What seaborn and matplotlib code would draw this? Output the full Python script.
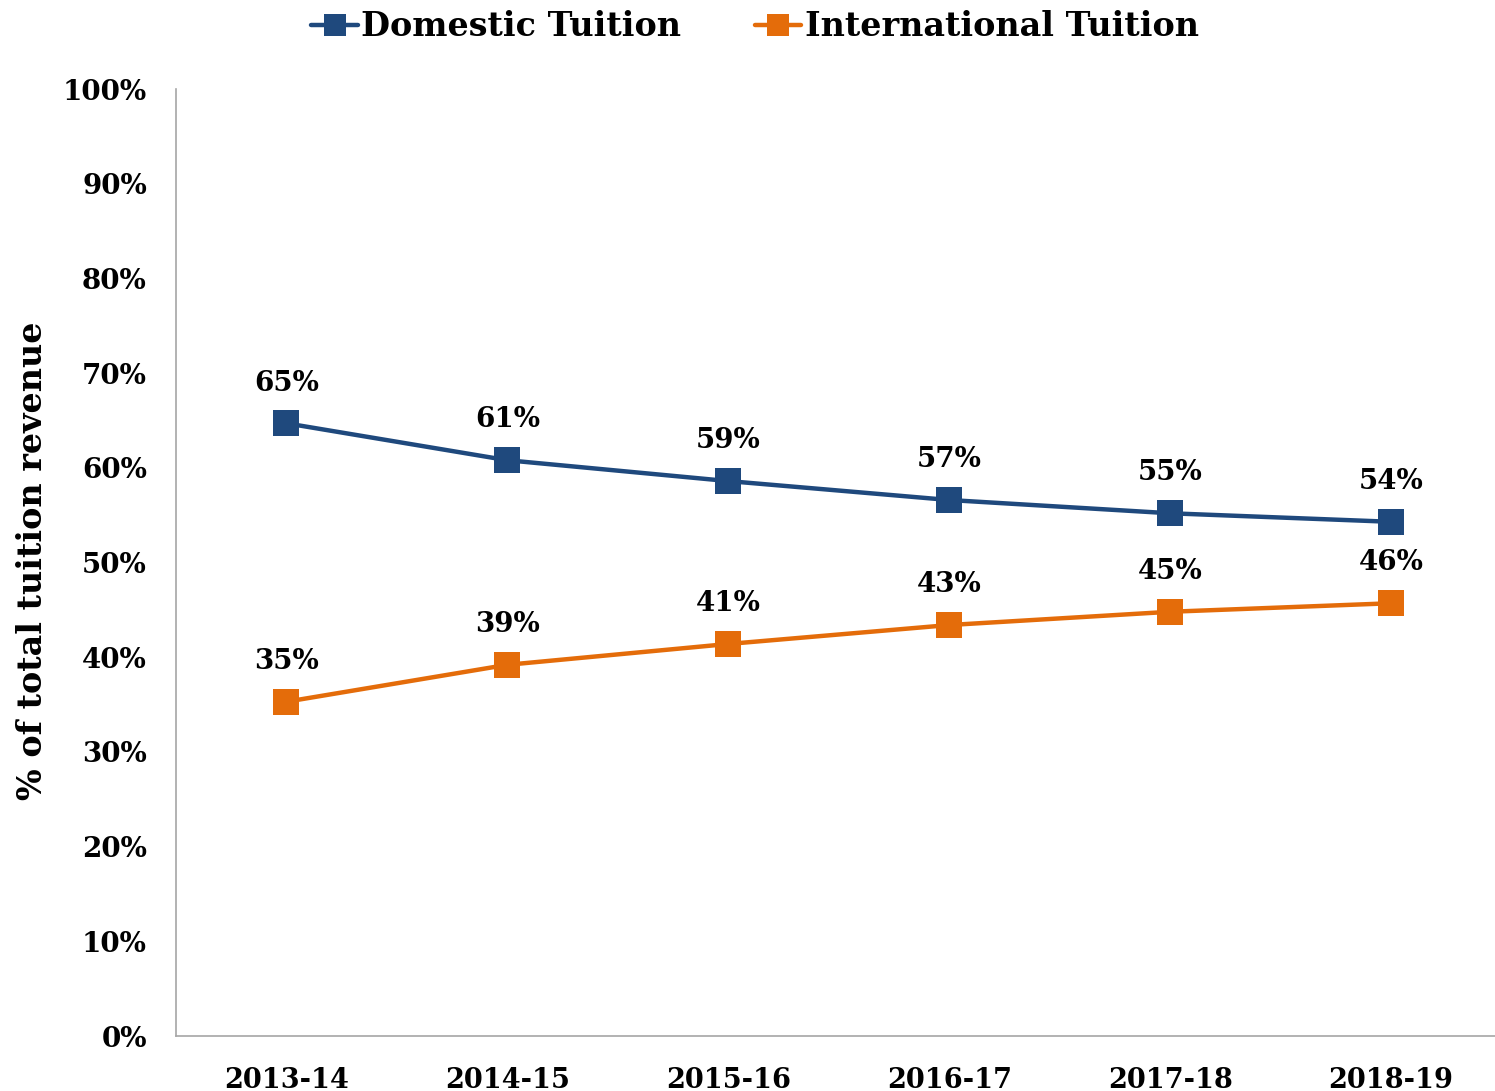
import matplotlib
matplotlib.use("Agg")
import matplotlib.pyplot as plt
import seaborn as sns
import pandas as pd

# Share of total tuition revenue by source (%)
years = ["2013-14", "2014-15", "2015-16", "2016-17", "2017-18", "2018-19"]
domestic = [64.7, 60.8, 58.6, 56.6, 55.2, 54.3]
international = [35.3, 39.2, 41.4, 43.4, 44.8, 45.7]
series_names = ["Domestic Tuition", "International Tuition"]
colors = ["#1F497D", "#E46C0A"]

df = pd.DataFrame({
    "year": years * 2,
    "pos": list(range(len(years))) * 2,
    "share": domestic + international,
    "source": [series_names[0]] * len(years) + [series_names[1]] * len(years),
})

sns.set_theme(style="white")
plt.rcParams["font.family"] = ["DejaVu Serif"]
plt.rcParams["font.weight"] = "bold"
plt.rcParams["text.color"] = "black"
plt.rcParams["xtick.color"] = "black"
plt.rcParams["ytick.color"] = "black"

fig = plt.figure(figsize=(14.95, 10.91), dpi=100)
ax = fig.add_axes([0.1177, 0.0504, 0.8823, 0.868])

sns.lineplot(
    data=df, x="pos", y="share", hue="source", hue_order=series_names,
    palette=colors, marker="s", markersize=19, markeredgewidth=0,
    linewidth=3.2, ax=ax, legend=False,
)

# value labels above each point
for vals in (domestic, international):
    for i, v in enumerate(vals):
        ax.annotate(f"{v:.0f}%", (i, v), xytext=(0, 29), textcoords="offset points",
                    ha="center", va="center", fontsize=20, fontweight="bold",
                    color="black")

ax.set_xlim(-0.5, 5.47)
ax.set_ylim(0, 100)
ax.set_yticks(range(0, 101, 10))
ax.set_yticklabels([f"{t}%" for t in range(0, 101, 10)], fontsize=20, fontweight="bold")
ax.set_xticks(range(len(years)))
ax.set_xticklabels(years, fontsize=19.5, fontweight="bold")
ax.tick_params(axis="x", length=0, pad=22)
ax.tick_params(axis="y", length=0, pad=21)
ax.set_xlabel("")
ax.set_ylabel("")
fig.text(33 / 1495, 1 - 561 / 1091, "% of total tuition revenue", rotation=90,
         ha="center", va="center", fontsize=24, fontweight="bold", color="black")

for side in ("top", "right"):
    ax.spines[side].set_visible(False)
for side in ("left", "bottom"):
    ax.spines[side].set_color("#A6A6A6")
    ax.spines[side].set_linewidth(1.2)

handles = [plt.Line2D([0], [0], color=c, marker="s", markersize=16, linewidth=3.2,
                      markeredgewidth=0) for c in colors]
fig.legend(handles, series_names, loc="upper center", bbox_to_anchor=(0.505, 1.018),
           ncol=2, frameon=False, prop={"size": 24, "weight": "bold"},
           handlelength=1.4, handletextpad=0.1, columnspacing=2.2)

fig.savefig("out.png", dpi=100, facecolor="white")
